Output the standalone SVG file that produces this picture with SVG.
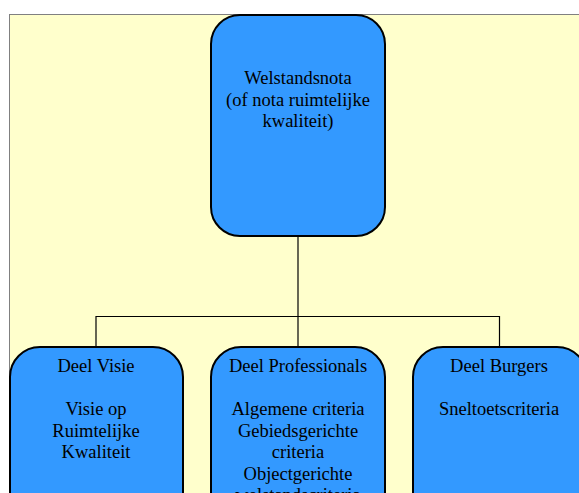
<svg xmlns="http://www.w3.org/2000/svg" width="579" height="493" viewBox="0 0 579 493">
  <style>
    .node rect { fill: #3399FF; stroke: #000; stroke-width: 2; }
    .node text { font-family: "Liberation Serif", "Times New Roman", serif; font-size: 18.5px; fill: #000; text-anchor: middle; }
    .conn { stroke: #000; stroke-width: 1.2; fill: none; }
  </style>
  <rect x="9.5" y="14.5" width="580" height="490" fill="#FFFFCC" stroke="#808080" stroke-width="1"/>
  <g id="connectors">
    <path class="conn" d="M298,236 V347" stroke-width="2"/>
    <path class="conn" d="M96,347 V316.5 H499.5 V347"/>
  </g>
  <g id="node-welstandsnota" class="node">
    <rect x="211" y="15" width="174" height="221" rx="29" ry="29"/>
    <text x="298" y="84.3">Welstandsnota</text>
    <text x="298" y="105.8">(of nota ruimtelijke</text>
    <text x="298" y="127.3">kwaliteit)</text>
  </g>
  <g id="node-visie" class="node">
    <rect x="10" y="347" width="173" height="200" rx="30" ry="30"/>
    <text x="96" y="372">Deel Visie</text>
    <text x="96" y="415">Visie op</text>
    <text x="96" y="436.5">Ruimtelijke</text>
    <text x="96" y="458">Kwaliteit</text>
  </g>
  <g id="node-professionals" class="node">
    <rect x="211" y="347" width="174" height="200" rx="30" ry="30"/>
    <text x="298" y="372">Deel Professionals</text>
    <text x="298" y="415">Algemene criteria</text>
    <text x="298" y="436.5">Gebiedsgerichte</text>
    <text x="298" y="458">criteria</text>
    <text x="298" y="479.5">Objectgerichte</text>
    <text x="298" y="501">welstandscriteria</text>
  </g>
  <g id="node-burgers" class="node">
    <rect x="413" y="347" width="174" height="200" rx="30" ry="30"/>
    <text x="499" y="372">Deel Burgers</text>
    <text x="499" y="415">Sneltoetscriteria</text>
  </g>
</svg>
